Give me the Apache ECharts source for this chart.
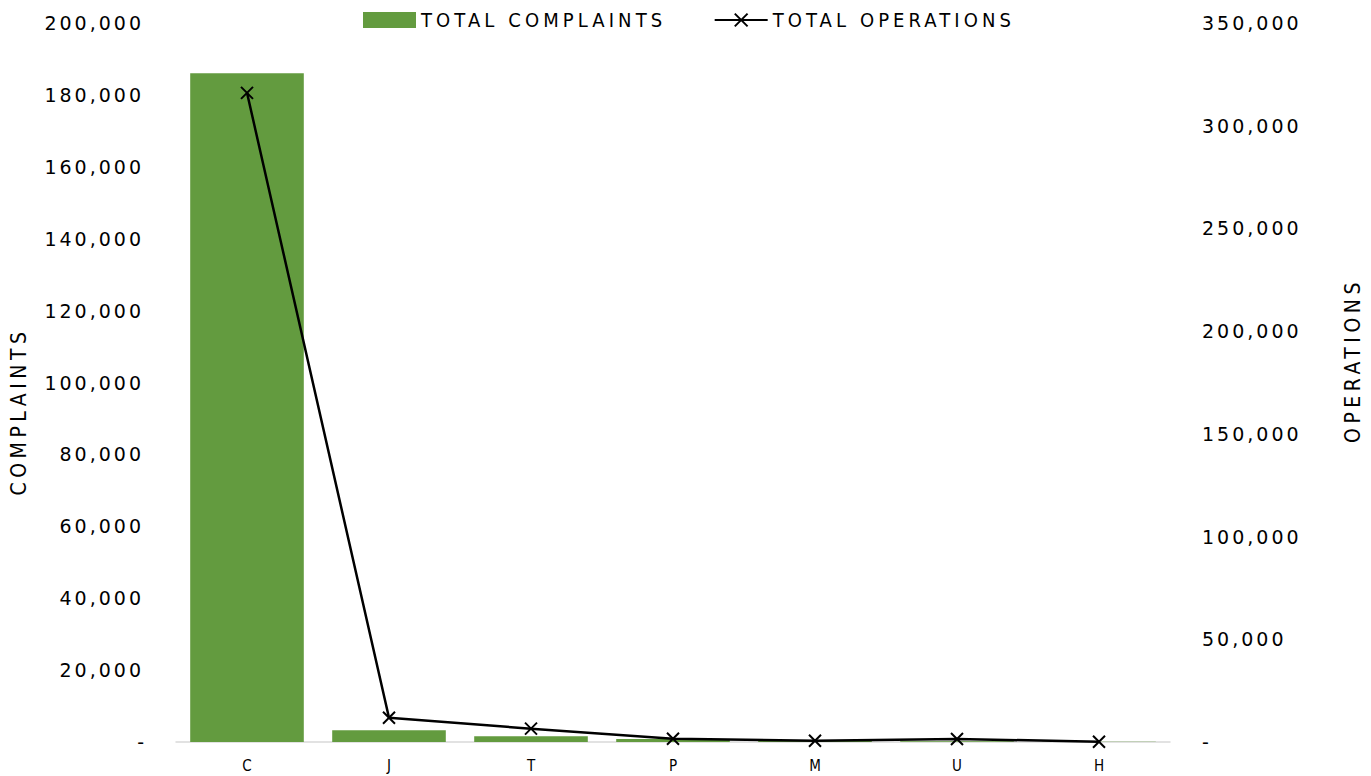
<!DOCTYPE html>
<html>
<head>
<meta charset="utf-8">
<script src="https://cdn.jsdelivr.net/npm/echarts@6/dist/echarts.min.js"></script>
<style>
  html, body { margin: 0; padding: 0; background: #fff; }
  #chart { width: 1371px; height: 776px; }
  svg text { letter-spacing: 4.5px; }
</style>
</head>
<body>
<div id="chart"></div>
<script>
const categories = ['C', 'J', 'T', 'P', 'M', 'U', 'H'];
const complaints = [186000, 3300, 1600, 800, 300, 200, 100];
const operations = [316000, 11800, 6500, 1600, 600, 1500, 100];
const leftTicks = { min: 0, max: 200000, interval: 20000 };
const rightTicks = { min: 0, max: 350000, interval: 50000 };

const narrow = '"DejaVu Sans Condensed", "DejaVu Sans", sans-serif';
const fmt = v => v === 0 ? '-' : v.toLocaleString('en-US');

const chart = echarts.init(document.getElementById('chart'), null, { renderer: 'svg' });
chart.setOption({
  animation: false,
  backgroundColor: '#fff',
  grid: { left: 174, right: 199, top: 23, bottom: 34 },
  legend: {
    left: 363, top: 10, padding: 0,
    itemWidth: 53, itemHeight: 16, itemGap: 113,
    textStyle: { fontFamily: narrow, fontSize: 20, color: '#000' },
    data: [
      { name: 'TOTAL COMPLAINTS', icon: 'rect' },
      { name: 'TOTAL OPERATIONS' }
    ]
  },
  xAxis: {
    type: 'category',
    data: categories,
    axisLine: { lineStyle: { color: '#d9d9d9', width: 1.5 } },
    axisTick: { show: false },
    axisLabel: { fontFamily: narrow, fontSize: 15, color: '#000', margin: 16 }
  },
  yAxis: [
    {
      type: 'value', ...leftTicks,
      name: 'COMPLAINTS', nameLocation: 'middle', nameGap: 147,
      nameTextStyle: { fontFamily: narrow, fontSize: 21, color: '#000', padding: [0, 58, 0, 0] },
      splitLine: { show: false }, axisLine: { show: false }, axisTick: { show: false },
      axisLabel: { fontFamily: '"DejaVu Sans", sans-serif', fontSize: 19, color: '#000', margin: 32, formatter: fmt }
    },
    {
      type: 'value', ...rightTicks, position: 'right',
      name: 'OPERATIONS', nameLocation: 'middle', nameGap: 172,
      nameTextStyle: { fontFamily: narrow, fontSize: 21, color: '#000', padding: [0, 0, 0, 44] },
      splitLine: { show: false }, axisLine: { show: false }, axisTick: { show: false },
      axisLabel: { fontFamily: '"DejaVu Sans", sans-serif', fontSize: 19, color: '#000', margin: 32, formatter: fmt }
    }
  ],
  series: [
    {
      name: 'TOTAL COMPLAINTS', type: 'bar', yAxisIndex: 0,
      data: complaints, barCategoryGap: '20%',
      itemStyle: { color: '#639b3f' }
    },
    {
      name: 'TOTAL OPERATIONS', type: 'line', yAxisIndex: 1,
      data: operations,
      symbol: 'path://M0,0L10,10M10,0L0,10', symbolSize: 12,
      lineStyle: { color: '#000', width: 2.5 },
      itemStyle: { color: '#000', borderColor: '#000', borderWidth: 2 }
    }
  ]
});

function spaceText() {
  document.querySelectorAll('#chart svg text').forEach(el => {
    const fs = window.getComputedStyle(el).fontSize;
    const txt = (el.textContent || '').trim();
    let sp = '4.5px';
    if (txt.length <= 1) sp = '0px';
    else if (fs === '19px') sp = '3px';
    else if (fs === '20px') sp = '4.1px';
    el.style.letterSpacing = sp;
  });
}
spaceText();
chart.on('finished', spaceText);
</script>
</body>
</html>
